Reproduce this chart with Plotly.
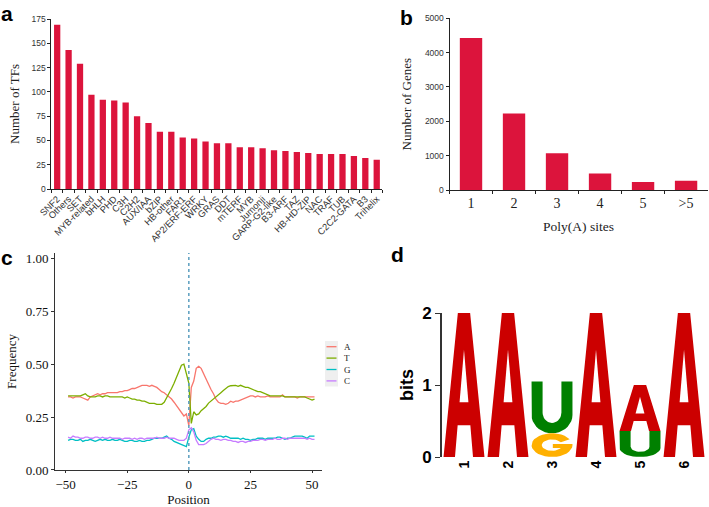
import math
import plotly.graph_objects as go

# ---------------- data ----------------
# panel a
tf_families = ["SNF2", "Others", "SET", "MYB-related", "bHLH", "PHD", "C3H", "C2H2", "AUX/IAA",
               "bZIP", "HB-other", "FAR1", "AP2/ERF-ERF", "WRKY", "GRAS", "DDT", "mTERF", "MYB",
               "Jumonji", "GARP-G2-like", "B3-ARF", "TAZ", "HB-HD-ZIP", "NAC", "TRAF", "TUB",
               "C2C2-GATA", "B3", "Trihelix"]
tf_counts = [169, 143, 129, 97, 92, 91, 89, 75, 68, 59, 59, 53, 52, 49, 47, 47, 43, 43, 42, 40,
             39, 38, 37, 36, 36, 36, 34, 32, 30]
tf_ticks = [0, 25, 50, 75, 100, 125, 150, 175]
tf_grid = [25, 50, 75, 100, 125, 150]

# panel b
polya_sites = ["1", "2", "3", "4", "5", ">5"]
polya_genes = [4430, 2230, 1070, 480, 230, 270]
gene_ticks = [0, 1000, 2000, 3000, 4000, 5000]
gene_grid = [1000, 2000, 3000, 4000]

# panel c
positions = list(range(-49, 52))
freq_A = [0.345, 0.345, 0.34, 0.345, 0.345, 0.345, 0.34, 0.335, 0.33, 0.345,
          0.35, 0.355, 0.36, 0.355, 0.36, 0.36, 0.365, 0.365, 0.365, 0.365,
          0.365, 0.37, 0.37, 0.375, 0.375, 0.38, 0.385, 0.385, 0.39, 0.395,
          0.40, 0.40, 0.40, 0.395, 0.40, 0.395, 0.39, 0.38, 0.37, 0.365,
          0.355, 0.345, 0.335, 0.32, 0.305, 0.29, 0.27, 0.255, 0.265, 0.21,
          0.39, 0.42, 0.48, 0.49, 0.48, 0.455, 0.43, 0.40, 0.38, 0.36,
          0.335, 0.32, 0.315, 0.315, 0.31, 0.315, 0.325, 0.32, 0.325, 0.325,
          0.33, 0.335, 0.34, 0.345, 0.35, 0.35, 0.345, 0.35, 0.345, 0.345,
          0.345, 0.35, 0.345, 0.345, 0.345, 0.345, 0.345, 0.355, 0.345, 0.345,
          0.345, 0.345, 0.345, 0.34, 0.345, 0.345, 0.345, 0.345, 0.345, 0.345,
          0.345]
freq_T = [0.35, 0.35, 0.35, 0.35, 0.35, 0.35, 0.355, 0.36, 0.35, 0.345,
          0.345, 0.345, 0.35, 0.35, 0.345, 0.35, 0.35, 0.345, 0.345, 0.345,
          0.345, 0.345, 0.345, 0.34, 0.345, 0.34, 0.335, 0.335, 0.33, 0.33,
          0.325, 0.325, 0.32, 0.315, 0.315, 0.315, 0.31, 0.31, 0.31, 0.32,
          0.34, 0.36, 0.385, 0.41, 0.44, 0.47, 0.495, 0.50, 0.455, 0.41,
          0.22, 0.275, 0.26, 0.265, 0.28, 0.29, 0.30, 0.316, 0.325, 0.335,
          0.345, 0.355, 0.365, 0.375, 0.385, 0.394, 0.398, 0.40, 0.40, 0.395,
          0.40, 0.395, 0.39, 0.39, 0.385, 0.38, 0.375, 0.37, 0.37, 0.365,
          0.36, 0.355, 0.35, 0.35, 0.35, 0.35, 0.35, 0.35, 0.345, 0.345,
          0.345, 0.345, 0.345, 0.345, 0.345, 0.345, 0.345, 0.34, 0.335, 0.33,
          0.335]
freq_G = [0.14, 0.145, 0.145, 0.14, 0.14, 0.145, 0.135, 0.14, 0.14, 0.145,
          0.14, 0.135, 0.14, 0.145, 0.14, 0.145, 0.14, 0.14, 0.145, 0.14,
          0.14, 0.145, 0.14, 0.135, 0.135, 0.14, 0.14, 0.135, 0.135, 0.14,
          0.135, 0.135, 0.14, 0.14, 0.145, 0.15, 0.15, 0.15, 0.15, 0.155,
          0.16, 0.15, 0.145, 0.135, 0.13, 0.125, 0.12, 0.115, 0.11, 0.155,
          0.19, 0.195, 0.16, 0.145, 0.135, 0.135, 0.145, 0.15, 0.15, 0.155,
          0.155, 0.16, 0.16, 0.155, 0.16, 0.155, 0.15, 0.15, 0.15, 0.15,
          0.145, 0.15, 0.145, 0.145, 0.14, 0.145, 0.145, 0.15, 0.15, 0.15,
          0.145, 0.15, 0.15, 0.15, 0.15, 0.155, 0.155, 0.15, 0.145, 0.15,
          0.15, 0.155, 0.16, 0.16, 0.16, 0.16, 0.155, 0.15, 0.16, 0.16,
          0.16]
freq_C = [0.155, 0.15, 0.16, 0.155, 0.155, 0.15, 0.15, 0.155, 0.155, 0.15,
          0.15, 0.155, 0.155, 0.15, 0.155, 0.15, 0.15, 0.155, 0.15, 0.15,
          0.15, 0.15, 0.145, 0.15, 0.15, 0.15, 0.145, 0.15, 0.145, 0.15,
          0.15, 0.145, 0.15, 0.15, 0.15, 0.15, 0.155, 0.15, 0.15, 0.15,
          0.155, 0.15, 0.15, 0.15, 0.145, 0.14, 0.14, 0.14, 0.15, 0.19,
          0.20, 0.18, 0.14, 0.12, 0.12, 0.12, 0.125, 0.135, 0.145, 0.15,
          0.145, 0.145, 0.14, 0.145, 0.145, 0.14, 0.14, 0.135, 0.135, 0.13,
          0.135, 0.135, 0.13, 0.135, 0.135, 0.14, 0.14, 0.14, 0.145, 0.145,
          0.14, 0.145, 0.145, 0.145, 0.15, 0.145, 0.145, 0.15, 0.15, 0.145,
          0.15, 0.15, 0.15, 0.15, 0.15, 0.15, 0.15, 0.145, 0.15, 0.145,
          0.145]
freq_ticks = [0.0, 0.25, 0.5, 0.75, 1.0]
freq_labels = ["0.00", "0.25", "0.50", "0.75", "1.00"]
pos_ticks = [-50, -25, 0, 25, 50]

# panel d (sequence logo, bits per letter; stacked bottom -> top)
logo_pos = [1, 2, 3, 4, 5, 6]
logo_A = [2.0, 2.0, 0.0, 2.0, 0.64, 2.0]
logo_U = [0.0, 0.0, 0.72, 0.0, 0.36, 0.0]
logo_G = [0.0, 0.0, 0.33, 0.0, 0.0, 0.0]
bits_ticks = [0, 1, 2]

# ---------------- styles ----------------
BAR = "#DC143C"
SANS = "Liberation Sans, Arial"
SERIF = "Liberation Serif, Times New Roman"
AX = "#222222"
COL = {"A": "#F8766D", "T": "#7CAE00", "G": "#00BFC4", "C": "#C77CFF"}
LOGO_COL = {"A": "#CC0000", "U": "#008000", "G": "#FFB000"}

fig = go.Figure()

# panel a
fig.add_trace(go.Bar(x=tf_families, y=tf_counts, marker=dict(color=BAR, line=dict(width=0)),
                     width=0.55, xaxis="x", yaxis="y", showlegend=False))
# panel b
fig.add_trace(go.Bar(x=polya_sites, y=polya_genes, marker=dict(color=BAR, line=dict(width=0)),
                     width=0.52, xaxis="x2", yaxis="y2", showlegend=False))
# panel c
for name, vals in [("A", freq_A), ("T", freq_T), ("G", freq_G), ("C", freq_C)]:
    fig.add_trace(go.Scatter(x=positions, y=vals, mode="lines", name=name,
                             line=dict(color=COL[name], width=1.3),
                             xaxis="x3", yaxis="y3", showlegend=False))


# panel d glyphs (unit-box outlines, scaled by data)
def glyph_A():
    outer = [(0, 0), (0.35, 1), (0.65, 1), (1, 0), (0.72, 0), (0.655, 0.22),
             (0.345, 0.22), (0.28, 0), (0, 0)]
    hole = [(0.392, 0.38), (0.608, 0.38), (0.5, 0.745), (0.392, 0.38)]
    return [outer], [hole]


def glyph_U():
    pts = [(0, 1), (0, 0.35)]
    for k in range(0, 19):
        t = math.pi + k * math.pi / 18
        pts.append((0.5 + 0.5 * math.cos(t), 0.35 + 0.35 * math.sin(t)))
    pts += [(1, 1), (0.73, 1), (0.73, 0.4)]
    for k in range(0, 19):
        t = -k * math.pi / 18
        pts.append((0.5 + 0.23 * math.cos(t), 0.4 + 0.2 * math.sin(t)))
    pts += [(0.27, 1), (0, 1)]
    return [pts], []


def glyph_G():
    pts = []
    a0 = math.radians(30)
    for k in range(0, 31):
        t = a0 + k * (2 * math.pi - a0) / 30
        pts.append((0.5 + 0.5 * math.cos(t), 0.5 + 0.5 * math.sin(t)))
    pts += [(1, 0.55), (0.52, 0.55), (0.52, 0.38), (0.74, 0.38)]
    for k in range(0, 31):
        t = -math.radians(30) - k * (2 * math.pi - 2 * math.radians(30)) / 30
        pts.append((0.5 + 0.25 * math.cos(t), 0.5 + 0.24 * math.sin(t)))
    pts.append(pts[0])
    return [pts], []


GLYPHS = {"A": glyph_A, "U": glyph_U, "G": glyph_G}
LW = 0.93

for i, p in enumerate(logo_pos):
    stack = [("A", logo_A[i]), ("U", logo_U[i]), ("G", logo_G[i])]
    stack = sorted([s for s in stack if s[1] > 0], key=lambda s: s[1])
    base = 0.0
    for letter, h in stack:
        outers, holes = GLYPHS[letter]()
        for poly, color in [(q, LOGO_COL[letter]) for q in outers] + [(q, "white") for q in holes]:
            xs = [p - LW / 2 + u * LW for u, v in poly]
            ys = [base + v * h for u, v in poly]
            fig.add_trace(go.Scatter(x=xs, y=ys, mode="lines", fill="toself", fillcolor=color,
                                     line=dict(width=0, color=color), hoverinfo="skip",
                                     xaxis="x4", yaxis="y4", showlegend=False))
        base += h

GRID = dict(showgrid=True, gridcolor="#999", griddash="dot", gridwidth=0.8, zeroline=False,
            showline=False, ticks="", showticklabels=False, automargin=False)

fig.update_layout(
    width=709, height=507, margin=dict(l=0, r=0, t=0, b=0, autoexpand=False),
    paper_bgcolor="white", plot_bgcolor="white", showlegend=False,
    xaxis=dict(domain=[0.0726, 0.5394], type="category", showline=True, linecolor=AX, linewidth=1,
               ticks="outside", tickson="boundaries", ticklen=3, tickcolor=AX, tickangle=-45,
               tickfont=dict(family=SANS, size=9.3, color="#333"), anchor="y", automargin=False),
    yaxis=dict(domain=[0.6272, 0.9625], range=[0, 175], tickvals=tf_ticks, showline=True,
               linecolor=AX, linewidth=1, ticks="outside", ticklen=3, tickcolor=AX,
               showgrid=False, zeroline=False, automargin=False,
               tickfont=dict(family=SANS, size=8.5, color="#333"), anchor="x",
               title=dict(text="Number of TFs", font=dict(family=SERIF, size=13, color="#222"), standoff=9)),
    yaxis5=dict(overlaying="y", anchor="x", range=[0, 175], tickvals=tf_grid, **GRID),
    xaxis2=dict(domain=[0.634, 0.998], type="category", showline=True, linecolor=AX, linewidth=1,
                ticks="outside", tickson="boundaries", ticklen=3, tickcolor=AX, automargin=False,
                tickfont=dict(family=SERIF, size=14, color="#222"), anchor="y2",
                title=dict(text="Poly(A) sites", font=dict(family=SERIF, size=13.5, color="#222"), standoff=11)),
    yaxis2=dict(domain=[0.6252, 0.9639], range=[0, 5000], tickvals=gene_ticks, showline=True,
                linecolor=AX, linewidth=1, ticks="outside", ticklen=3, tickcolor=AX,
                showgrid=False, zeroline=False, automargin=False,
                tickfont=dict(family=SANS, size=8.5, color="#333"), anchor="x2",
                title=dict(text="Number of Genes", font=dict(family=SERIF, size=13, color="#222"), standoff=10)),
    yaxis6=dict(overlaying="y2", anchor="x2", range=[0, 5000], tickvals=gene_grid, **GRID),
    xaxis3=dict(domain=[0.0776, 0.4542], range=[-54.3, 54.05], tickvals=pos_ticks, showline=True,
                linecolor="#333", linewidth=1, ticks="outside", ticklen=2, tickcolor="#333",
                showgrid=False, zeroline=False, anchor="y3", automargin=False,
                tickfont=dict(family=SERIF, size=13, color="#111"),
                title=dict(text="Position", font=dict(family=SERIF, size=13, color="#111"), standoff=8)),
    yaxis3=dict(domain=[0.073, 0.501], range=[0, 1.025], tickvals=freq_ticks, ticktext=freq_labels,
                showline=True, linecolor="#333", linewidth=1, ticks="outside", ticklen=3,
                tickcolor="#333", showgrid=False, zeroline=False, anchor="x3", automargin=False,
                tickfont=dict(family=SERIF, size=13, color="#111"),
                title=dict(text="Frequency", font=dict(family=SERIF, size=13, color="#111"), standoff=6)),
    xaxis4=dict(domain=[0.6234, 0.9958], range=[0.5, 6.5], tickvals=logo_pos, showline=False,
                ticks="", tickangle=-90, showgrid=False, zeroline=False, anchor="y4", automargin=False,
                tickfont=dict(family=SANS, size=14, color="black", weight="bold")),
    yaxis4=dict(domain=[0.0986, 0.3826], range=[0, 2], tickvals=bits_ticks, showline=True,
                linecolor="#333", linewidth=1.5, ticks="outside", ticklen=5, tickcolor="#333",
                showgrid=False, zeroline=False, anchor="x4", automargin=False,
                tickfont=dict(family=SANS, size=17, color="black", weight="bold"),
                title=dict(text="bits", font=dict(family=SANS, size=18, color="black", weight="bold"), standoff=4)),
)

# dashed reference line at position 0
fig.add_shape(type="line", xref="x3", yref="y3 domain", x0=0, x1=0, y0=0, y1=1,
              line=dict(color="#5B9EBF", width=1.5, dash="dot"))

# custom legend for panel c
fig.add_shape(type="rect", xref="paper", yref="paper", x0=325 / 709, x1=338 / 709,
              y0=1 - 386.5 / 507, y1=1 - 341 / 507, fillcolor="#EFEFEF", line=dict(width=0), layer="below")
for k, name in enumerate(["A", "T", "G", "C"]):
    yy = 1 - (346.7 + k * 11.4) / 507
    fig.add_shape(type="line", xref="paper", yref="paper", x0=326.5 / 709, x1=336.5 / 709,
                  y0=yy, y1=yy, line=dict(color=COL[name], width=1.3))
    fig.add_annotation(text=name, xref="paper", yref="paper", x=342 / 709, y=yy, xanchor="left",
                       yanchor="middle", showarrow=False, font=dict(family=SERIF, size=9, color="#222"))

# panel labels
for lab, x, y in [("a", -1, 0), ("b", 398, 4), ("c", -1, 244), ("d", 389, 241)]:
    fig.add_annotation(text=lab, xref="paper", yref="paper", x=x / 709, y=1 - y / 507,
                       xanchor="left", yanchor="top", showarrow=False,
                       font=dict(family=SANS, size=21, color="black", weight="bold"))

fig.write_html("out.html", post_script="document.body.style.margin='0px';",
               config={"displayModeBar": False})
